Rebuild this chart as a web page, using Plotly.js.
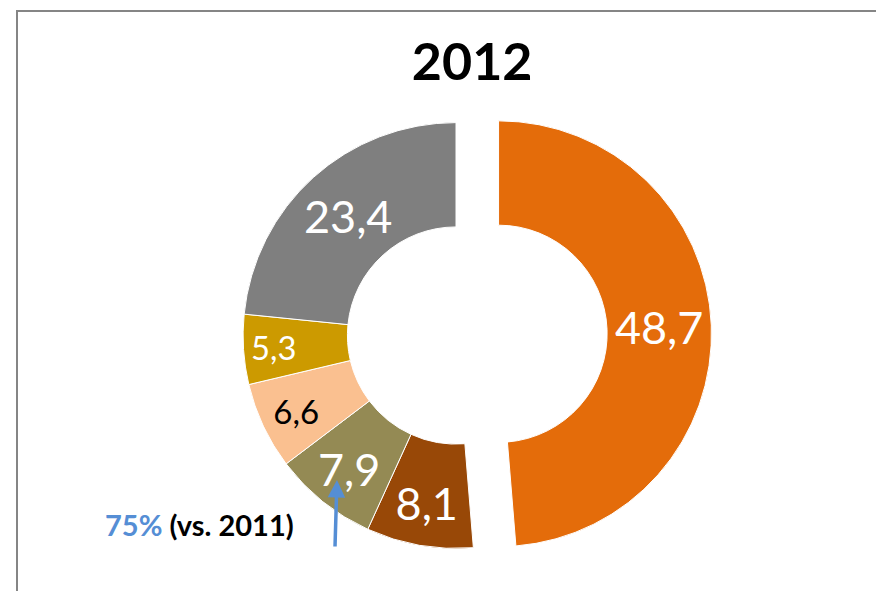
<!DOCTYPE html>
<html>
<head>
<meta charset="utf-8">
<script src="https://cdn.plot.ly/plotly-3.0.1.min.js"></script>
<style>
  html, body { margin: 0; padding: 0; background: #fff; }
  #wrap { position: relative; width: 876px; height: 591px; }
  #chart { position: absolute; left: 0; top: 0; width: 876px; height: 591px; }
  #frame { position: absolute; left: 16px; top: 10px; width: 870px; height: 600px;
           border-left: 2px solid #858585; border-top: 2px solid #858585; pointer-events: none; }
</style>
</head>
<body>
<div id="wrap">
  <div id="chart"></div>
  <div id="frame"></div>
</div>
<script>
// ---- data ----
var titleText = '2012';
var categories = ['A', 'B', 'C', 'D', 'E', 'F'];
var shares = [48.7, 8.1, 7.9, 6.6, 5.3, 23.4];
var sliceColors = ['#E46C0A', '#984807', '#948A54', '#FAC090', '#CC9A00', '#7F7F7F'];
var labelColors = ['#FFFFFF', '#FFFFFF', '#FFFFFF', '#000000', '#FFFFFF', '#FFFFFF'];
var labelSizes = [45, 45, 45, 33, 36, 45];
var pulls = [0.2, 0, 0, 0, 0, 0];
var noteHighlight = '75%';
var noteRest = ' (vs. 2011)';

var trace = {
  type: 'pie',
  labels: categories,
  values: shares,
  sort: false,
  direction: 'clockwise',
  rotation: 0,
  hole: 0.51,
  pull: pulls,
  marker: { colors: sliceColors, line: { color: '#FFFFFF', width: 1 } },
  textinfo: 'value',
  texttemplate: '%{value:.1f}',
  textposition: 'inside',
  insidetextorientation: 'horizontal',
  insidetextfont: { family: 'Lato, sans-serif', size: labelSizes, color: labelColors },
  hoverinfo: 'skip',
  domain: { x: [0, 1], y: [0, 1] }
};

var layout = {
  width: 876,
  height: 591,
  margin: { l: 36, r: 0, t: 80, b: 0 },
  paper_bgcolor: 'rgba(0,0,0,0)',
  plot_bgcolor: 'rgba(0,0,0,0)',
  separators: ', ',
  showlegend: false,
  title: {
    text: '<b>' + titleText + '</b>',
    font: { family: 'Lato, sans-serif', size: 52, color: '#000000' },
    x: 0.539, xref: 'container', xanchor: 'center',
    y: 0.895, yref: 'container', yanchor: 'middle'
  },
  annotations: [
    {
      xref: 'paper', yref: 'paper',
      x: 0.1946, y: 0.131, xanchor: 'center', yanchor: 'middle',
      showarrow: false,
      text: '<b><span style="color:#558ED5">' + noteHighlight + '</span>' + noteRest + '</b>',
      font: { family: 'Lato, sans-serif', size: 29, color: '#000000' }
    },
    {
      xref: 'paper', yref: 'paper',
      x: 0.3583, y: 0.2172,
      ax: -2, ay: 68,
      text: '',
      showarrow: true,
      arrowhead: 2,
      arrowsize: 1,
      arrowwidth: 3.5,
      arrowcolor: '#558ED5'
    }
  ]
};

Plotly.newPlot('chart', [trace], layout, { staticPlot: true, displayModeBar: false });
</script>
</body>
</html>
